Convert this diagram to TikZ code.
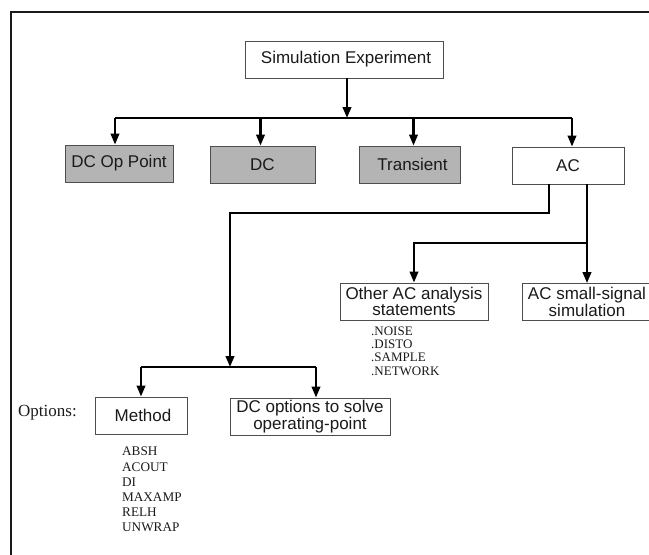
\documentclass[tikz,border=0pt]{standalone}
\usepackage{fontspec}
\setmainfont{Liberation Serif}
\newfontfamily\boxfont{Liberation Sans}
\usetikzlibrary{arrows.meta, positioning}
\definecolor{ink}{HTML}{1A1A1A}
\definecolor{border}{HTML}{4D4D4D}
\definecolor{shade}{HTML}{B4B4B4}
\tikzset{
  box/.style={draw=border, fill=white, line width=0.9pt, align=center, inner sep=1pt,
              minimum height=37pt, text=ink, font=\boxfont\fontsize{17}{15.5}\selectfont},
  gbox/.style={box, fill=shade},
  ln/.style={line width=2.3pt, draw=black},
  fl/.style={ln, -{Triangle[length=11pt, width=8.5pt]}},
  opts/.style={align=left, inner sep=0pt, anchor=north west, text=ink},
}
\begin{document}
\begin{tikzpicture}[x=1pt, y=-1pt]
  \useasboundingbox (0,0) rectangle (649,555);
  % frame, cut off at right and bottom
  \draw[line width=2pt, draw=ink] (11,556) -- (11,12) -- (650,12);

  % top level
  \node[box, minimum width=198pt] (sim) at (344,59.5) {\hspace*{4pt}Simulation Experiment};
  \node[gbox, minimum width=108pt] (dcop) at (119,163.5) {DC Op Point};
  \node[gbox, minimum width=105pt] (dc) at (262.5,164.5) {DC};
  \node[gbox, minimum width=101pt] (tran) at (409.5,164.5) {\hspace*{6pt}Transient};
  \node[box, minimum width=112pt] (ac) at (568,165.5) {AC};

  % AC branches
  \node[box, minimum width=148pt] (other) at (414,301.5) {Other AC analysis\\statements};
  \node[box, minimum width=130pt] (small) at (587,302) {AC small-signal\\simulation};
  \node[opts, font=\fontsize{13}{13.3}\selectfont] (aclist) at (371,326.5)
    {.NOISE\\.DISTO\\.SAMPLE\\.NETWORK};

  % DC op point options
  \node[box, minimum width=92pt] (method) at (141,415.5) {\hspace*{4pt}Method};
  \node[box, minimum width=160pt] (dcopt) at (310,416.5) {DC options to solve\\operating-point};
  \node[inner sep=0pt, text=ink, font=\fontsize{17}{17}\selectfont] (optlbl) at (47.5,413) {Options:};
  \node[opts, font=\fontsize{13.2}{15.2}\selectfont] (mlist) at (122,447)
    {ABSH\\ACOUT\\DI\\MAXAMP\\RELH\\UNWRAP};

  % connectors
  \coordinate (bus) at (347,118);
  \draw[fl] (sim.south -| bus) -- (bus);
  \draw[ln] ([xshift=-4pt]dcop.north |- bus) -- ([xshift=4pt]ac.north |- bus);
  \draw[fl] ([xshift=-4pt]dcop.north |- bus) -- ([xshift=-4pt]dcop.north);
  \draw[fl] ([xshift=-2pt]dc.north |- bus) -- ([xshift=-2pt]dc.north);
  \draw[fl] ([xshift=4pt]tran.north |- bus) -- ([xshift=4pt]tran.north);
  \draw[fl] ([xshift=4pt]ac.north |- bus) -- ([xshift=4pt]ac.north);

  \coordinate (k1) at (549,213);
  \coordinate (lbus) at (230,367);
  \draw[fl] (ac.south -| k1) -- (k1) -| (lbus);
  \draw[ln] (method.north |- lbus) -- ([xshift=6pt]dcopt.north |- lbus);
  \draw[fl] (method.north |- lbus) -- (method.north);
  \draw[fl] ([xshift=6pt]dcopt.north |- lbus) -- ([xshift=6pt]dcopt.north);

  \coordinate (k2) at (587,243);
  \draw[ln] (ac.south -| k2) -- (k2);
  \draw[fl] (k2) -- (small.north -| k2);
  \draw[fl] (k2) -| (other.north);
\end{tikzpicture}
\end{document}
